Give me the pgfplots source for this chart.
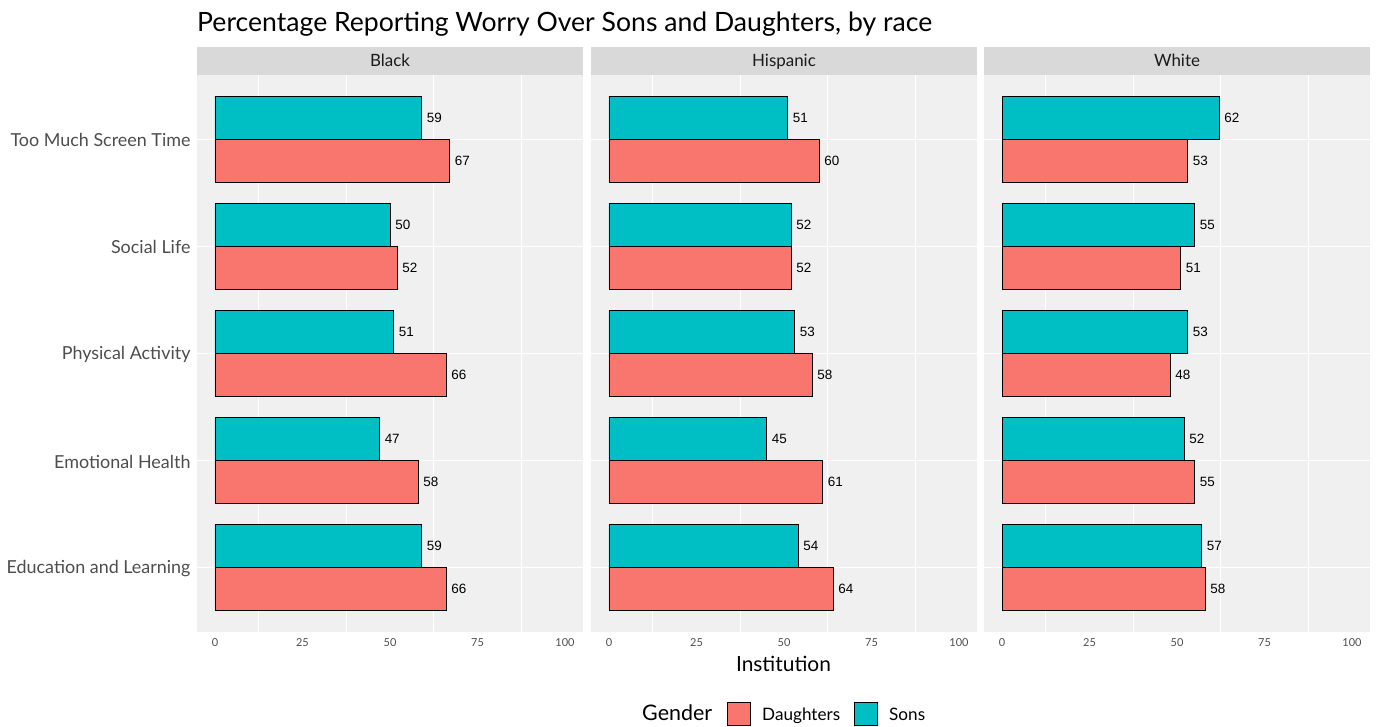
\documentclass[border=0pt]{standalone}
\usepackage{fontspec}
\setmainfont{Lato}
\newfontfamily\arial{Liberation Sans}
\usepackage{pgfplots}
\pgfplotsset{compat=1.18}
\definecolor{dau}{HTML}{F8766D}
\definecolor{son}{HTML}{00BFC4}
\definecolor{panelbg}{HTML}{F0F0F0}
\definecolor{stripbg}{HTML}{D9D9D9}
\definecolor{axtext}{HTML}{4D4D4D}
\definecolor{striptext}{HTML}{1A1A1A}

\pgfplotsset{
 facet/.style={
  anchor=south west,
  width=386bp, height=557bp, scale only axis,
  xmin=-5.14, xmax=105.14, ymin=0.4, ymax=5.6,
  axis line style={draw=none},
  axis background/.style={fill=panelbg},
  xtick={0,25,50,75,100},
  minor xtick={12.5,37.5,62.5,87.5},
  xmajorgrids=false, xminorgrids=true, ymajorgrids=true,
  major grid style={white, line width=1.2bp},
  minor grid style={white, line width=1.2bp},
  ytick={1,2,3,4,5},
  yticklabels={},
  major tick length=0pt, minor tick length=0pt,
  tick style={draw=none},
  /pgf/number format/assume math mode=true,
  xticklabel style={font=\fontsize{11}{13}\selectfont, text=axtext, yshift=-3bp},
  xbar, bar width=0.4,
  point meta=x,
  nodes near coords,
  nodes near coords style={font=\arial\fontsize{13.5}{15}\selectfont, text=black, anchor=west, xshift=1.5bp,
    /pgf/number format/.cd, fixed, precision=0},
 },
 sons/.style={fill=son, draw=black, line width=0.9bp, bar shift=0.2},
 daus/.style={fill=dau, draw=black, line width=0.9bp, bar shift=-0.2},
}

\begin{document}
\begin{tikzpicture}
\useasboundingbox (0,0) rectangle (1376bp,727bp);

% Black
\begin{axis}[facet, name=p1, at={(197bp,95bp)},
  yticklabels={Education and Learning, Emotional Health, Physical Activity, Social Life, Too Much Screen Time},
  yticklabel style={font=\fontsize{18}{21}\selectfont, text=axtext, xshift=-3bp, yshift=-1bp}]
\addplot[sons] coordinates {(59,1) (47,2) (51,3) (50,4) (59,5)};
\addplot[daus] coordinates {(66,1) (58,2) (66,3) (52,4) (67,5)};
\end{axis}

% Hispanic
\begin{axis}[facet, name=p2, at={(591bp,95bp)}]
\addplot[sons] coordinates {(54,1) (45,2) (53,3) (52,4) (51,5)};
\addplot[daus] coordinates {(64,1) (61,2) (58,3) (52,4) (60,5)};
\end{axis}

% White
\begin{axis}[facet, name=p3, at={(984bp,95bp)}]
\addplot[sons] coordinates {(57,1) (52,2) (53,3) (55,4) (62,5)};
\addplot[daus] coordinates {(58,1) (55,2) (48,3) (51,4) (53,5)};
\end{axis}

% strips
\foreach \p/\lab in {p1/Black, p2/Hispanic, p3/White}{
  \fill[stripbg] (\p.north west) rectangle ([yshift=28bp]\p.north east);
  \node[anchor=base, inner sep=0pt, font=\fontsize{17}{20}\selectfont, text=striptext] at ([yshift=8.5bp]\p.north) {\lab};
}

% title
\node[anchor=base west, font=\fontsize{26.7}{30}\selectfont, inner sep=0pt] at (197bp,695bp)
  {Percentage Reporting Worry Over Sons and Daughters, by race};

% x label
\node[font=\fontsize{21}{25}\selectfont, inner sep=0pt] at (783.5bp,63bp) {Institution};

% legend
\node[anchor=base west, font=\fontsize{21.5}{25}\selectfont, inner sep=0pt] at (642bp,6.5bp) {Gender};
\draw[fill=dau, draw=black, line width=0.9bp] (727bp,1.5bp) rectangle (750bp,24.5bp);
\node[anchor=base west, font=\fontsize{17.2}{20}\selectfont, inner sep=0pt] at (762bp,6.5bp) {Daughters};
\draw[fill=son, draw=black, line width=0.9bp] (854bp,1.5bp) rectangle (877bp,24.5bp);
\node[anchor=base west, font=\fontsize{17.2}{20}\selectfont, inner sep=0pt] at (889bp,6.5bp) {Sons};
\end{tikzpicture}
\end{document}
